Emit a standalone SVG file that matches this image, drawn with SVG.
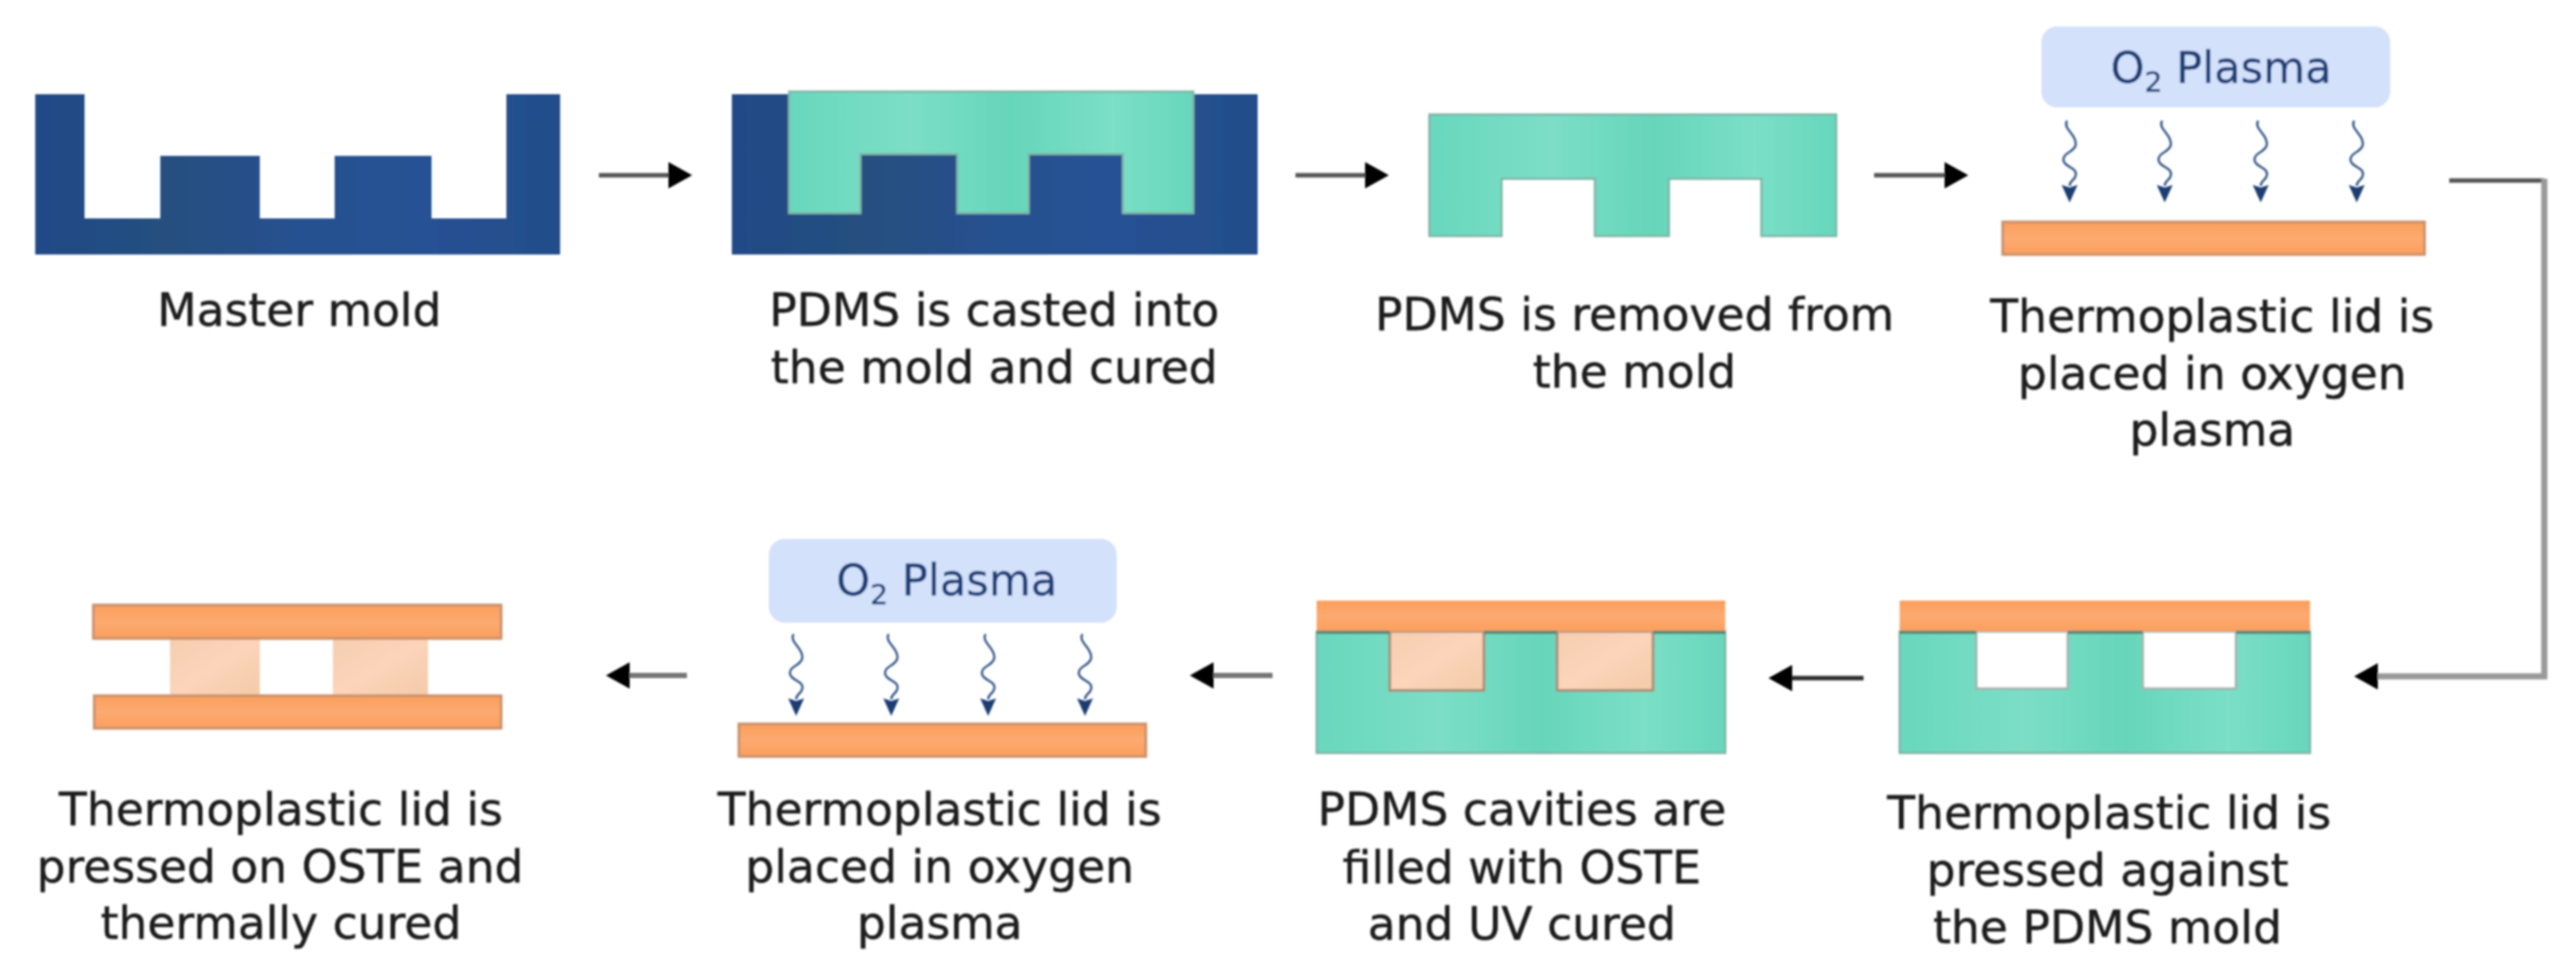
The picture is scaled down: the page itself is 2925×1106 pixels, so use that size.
<svg xmlns="http://www.w3.org/2000/svg" xmlns:xlink="http://www.w3.org/1999/xlink" width="2925" height="1106" viewBox="0 0 2925 1106">
<style>
text{font-family:"DejaVu Sans","Liberation Sans",sans-serif}
.lbl{font-size:51.8px;fill:#1c1c1c;text-anchor:middle;stroke:#1c1c1c;stroke-width:.5}
.pl{font-size:49px;fill:#1f3f78;text-anchor:middle;stroke:#1f3f78;stroke-width:.4}
.box{fill:#d3e1fb}
.mold{fill:url(#gm)}
.pdms{fill:url(#gp);stroke:#7fb5a6;stroke-width:2.5}
.lid{fill:url(#gl);stroke:#c9906a;stroke-width:3}
.oste{fill:url(#go);stroke:#a88c78;stroke-width:3}
.cav{fill:#fff;stroke:#9fb5ae;stroke-width:3}
.a1{fill:none;stroke:#555;stroke-width:5}
.a2{fill:none;stroke:#999;stroke-width:7}
.a3{fill:none;stroke:#2a2a2a;stroke-width:5}
.a4{fill:none;stroke:#777;stroke-width:6}
.sq{fill:none;stroke:#3d5f8e;stroke-width:2.6}
.sh{fill:#1f3d73}
</style>
<defs>
<linearGradient id="gm" x1="0" x2="1" y1="0" y2="0"><stop offset="0" stop-color="#234a88"/><stop offset=".25" stop-color="#25507f"/><stop offset=".5" stop-color="#275190"/><stop offset=".75" stop-color="#285194"/><stop offset="1" stop-color="#234e8a"/></linearGradient>
<linearGradient id="gp" x1="0" x2="1" y1="0" y2="0"><stop offset="0" stop-color="#68d8bd"/><stop offset=".3" stop-color="#7cdec6"/><stop offset=".55" stop-color="#66d6ba"/><stop offset=".8" stop-color="#7bdfc7"/><stop offset="1" stop-color="#67d7bc"/></linearGradient>
<linearGradient id="gl" x1="0" x2="0" y1="0" y2="1"><stop offset="0" stop-color="#fb9f5d"/><stop offset=".5" stop-color="#fdaa70"/><stop offset="1" stop-color="#fb9f5e"/></linearGradient>
<linearGradient id="go" x1="0" x2="1" y1="0" y2="1"><stop offset="0" stop-color="#f6ceb0"/><stop offset=".5" stop-color="#fbd4ba"/><stop offset="1" stop-color="#f3cba8"/></linearGradient>
<marker id="ah" markerUnits="userSpaceOnUse" markerWidth="28" markerHeight="30" refX="2" refY="15" orient="auto"><polygon points="0,0 27,15 0,30" fill="#000"/></marker>
<g id="wave"><path class="sq" d="M-3,0C-8,10 8,15 7,27C6,36-8,36-7,45C-6,53 9,53 7,62C6,68 0,68 0,74"/><polygon class="sh" points="-9,73 0,76 9,73 0,93"/></g>
<filter id="soft" x="0" y="0" width="100%" height="100%" filterUnits="userSpaceOnUse" primitiveUnits="userSpaceOnUse"><feGaussianBlur stdDeviation="1.1"/></filter>
</defs>
<rect width="2925" height="1106" fill="#fff"/>
<g filter="url(#soft)">
<g id="connectors">
<path class="a1" d="M680,199H761" marker-end="url(#ah)"/>
<path class="a1" d="M1471,199H1552" marker-end="url(#ah)"/>
<path class="a1" d="M2128,199H2210" marker-end="url(#ah)"/>
<path class="a1" d="M2781,205H2889"/>
<path class="a2" d="M2889,203V768H2698" marker-end="url(#ah)"/>
<path class="a3" d="M2116,770H2033" marker-end="url(#ah)"/>
<path class="a4" d="M1445,767H1376" marker-end="url(#ah)"/>
<path class="a4" d="M780,767H713" marker-end="url(#ah)"/>
</g>
<g id="step1">
<path class="mold" d="M40,107H96V248H182V177H295V248H380V177H490V248H575V107H636V289H40Z"/>
<text class="lbl" x="340" y="370">Master mold</text>
</g>
<g id="step2">
<rect class="mold" x="831" y="107" width="597" height="182"/>
<path class="pdms" d="M896,104H1355V242H1275V175H1168V242H1087V175H977V242H896Z"/>
<text class="lbl" x="1129" y="370">PDMS is casted into</text>
<text class="lbl" x="1129" y="435">the mold and cured</text>
</g>
<g id="step3">
<path class="pdms" d="M1623,130H2085V268H2000V203H1895V268H1811V203H1705V268H1623Z"/>
<text class="lbl" x="1856" y="375">PDMS is removed from</text>
<text class="lbl" x="1856" y="440">the mold</text>
</g>
<g id="step4">
<rect class="box" x="2318" y="30" width="396" height="92" rx="18"/>
<text class="pl" x="2522" y="94">O<tspan dy="10" font-size="32">2</tspan><tspan dy="-10"> Plasma</tspan></text>
<use xlink:href="#wave" href="#wave" x="2350" y="137"/>
<use xlink:href="#wave" href="#wave" x="2458" y="137"/>
<use xlink:href="#wave" href="#wave" x="2567" y="137"/>
<use xlink:href="#wave" href="#wave" x="2676" y="137"/>
<rect class="lid" x="2274" y="252" width="479" height="37"/>
<text class="lbl" x="2512" y="377">Thermoplastic lid is</text>
<text class="lbl" x="2512" y="442">placed in oxygen</text>
<text class="lbl" x="2512" y="506">plasma</text>
</g>
<g id="step5">
<path class="pdms" d="M2157,717H2623V855H2157Z"/>
<rect class="cav" x="2244" y="717" width="104" height="65"/>
<rect class="cav" x="2433" y="717" width="106" height="65"/>
<rect class="lid" x="2157" y="682" width="466" height="35" style="stroke:none"/>
<path d="M2157,718H2244M2348,718H2433M2539,718H2623" fill="none" stroke="#5f8a78" stroke-width="4"/>
<text class="lbl" x="2395" y="941">Thermoplastic lid is</text>
<text class="lbl" x="2393" y="1006">pressed against</text>
<text class="lbl" x="2393" y="1071">the PDMS mold</text>
</g>
<g id="step6">
<path class="pdms" d="M1495,717H1959V855H1495Z"/>
<rect class="oste" x="1578" y="717" width="107" height="67"/>
<rect class="oste" x="1768" y="717" width="109" height="67"/>
<rect class="lid" x="1495" y="682" width="464" height="35" style="stroke:none"/>
<path d="M1495,718H1578M1685,718H1768M1877,718H1959" fill="none" stroke="#5f8a78" stroke-width="4"/>
<text class="lbl" x="1728" y="937">PDMS cavities are</text>
<text class="lbl" x="1728" y="1003">filled with OSTE</text>
<text class="lbl" x="1728" y="1067">and UV cured</text>
</g>
<g id="step7">
<rect class="box" x="873" y="612" width="395" height="95" rx="18"/>
<text class="pl" x="1075" y="676">O<tspan dy="10" font-size="32">2</tspan><tspan dy="-10"> Plasma</tspan></text>
<use xlink:href="#wave" href="#wave" x="904" y="720"/>
<use xlink:href="#wave" href="#wave" x="1012" y="720"/>
<use xlink:href="#wave" href="#wave" x="1122" y="720"/>
<use xlink:href="#wave" href="#wave" x="1232" y="720"/>
<rect class="lid" x="839" y="822" width="462" height="37"/>
<text class="lbl" x="1067" y="937">Thermoplastic lid is</text>
<text class="lbl" x="1067" y="1002">placed in oxygen</text>
<text class="lbl" x="1067" y="1066">plasma</text>
</g>
<g id="step8">
<rect class="oste" x="193" y="725" width="102" height="65" style="stroke:none"/>
<rect class="oste" x="378" y="725" width="108" height="65" style="stroke:none"/>
<rect class="lid" x="106" y="687" width="463" height="38"/>
<rect class="lid" x="107" y="790" width="462" height="37"/>
<text class="lbl" x="319" y="937">Thermoplastic lid is</text>
<text class="lbl" x="318" y="1002">pressed on OSTE and</text>
<text class="lbl" x="319" y="1066">thermally cured</text>
</g>
</g>
</svg>
